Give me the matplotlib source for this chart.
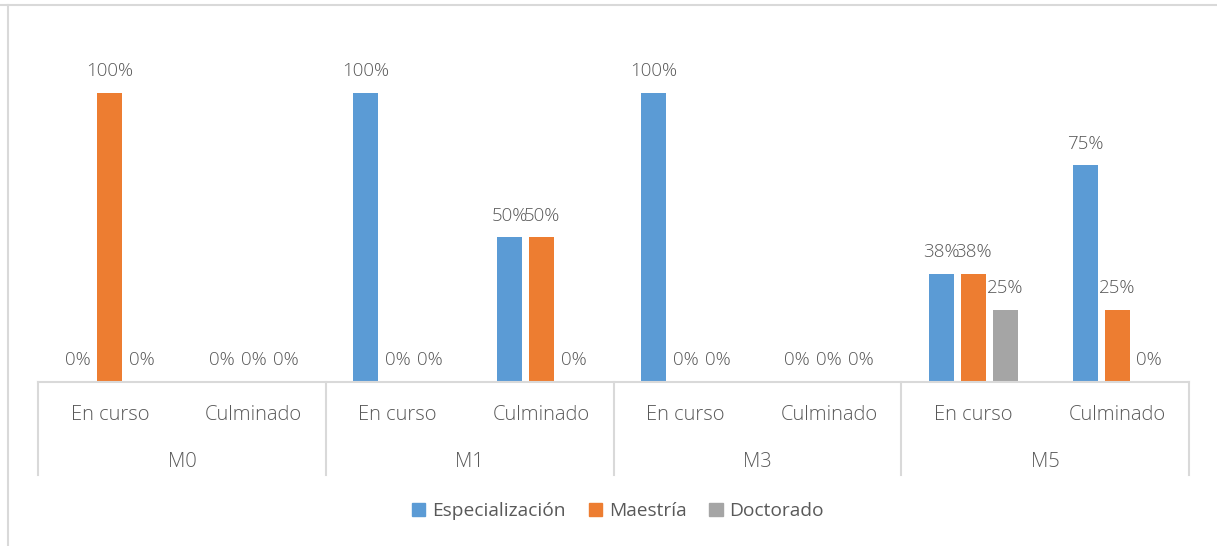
import matplotlib
matplotlib.use("Agg")
import matplotlib.pyplot as plt
import matplotlib.transforms as mtransforms
from matplotlib.lines import Line2D
from matplotlib.patches import Patch

# ---- data ----
groups = ["M0", "M1", "M3", "M5"]
subcats = ["En curso", "Culminado"]
series_names = ["Especialización", "Maestría", "Doctorado"]
especializacion = [0.0, 0.0, 1.0, 0.5, 1.0, 0.0, 0.375, 0.75]
maestria = [1.0, 0.0, 0.0, 0.5, 0.0, 0.0, 0.375, 0.25]
doctorado = [0.0, 0.0, 0.0, 0.0, 0.0, 0.0, 0.25, 0.0]
colors = ["#5B9BD5", "#ED7D31", "#A5A5A5"]

W, H = 1217, 546
fig = plt.figure(figsize=(W / 100, H / 100), dpi=100)
plt.rcParams['font.family'] = ['Open Sans', 'DejaVu Sans']
txt_color = "#595959"
grid_color = "#D9D9D9"
fs_data = 13.5
fs_cat = 14.5
fs_leg = 13.8

def fx(px):
    return px / W

def fy(py):
    return (H - py) / H

left, right, base, top = 38, 1189, 382, 35
ax = fig.add_axes([fx(left), fy(base), fx(right) - fx(left), fy(top) - fy(base)])
ax.set_xlim(0, 8)
ax.set_ylim(0, 1.2)
ax.axis("off")

n = len(especializacion)
xs = [i + 0.5 for i in range(n)]
all_series = [especializacion, maestria, doctorado]
offsets = [-0.222, 0.0, 0.222]
bw = 0.174
for s, vals in enumerate(all_series):
    bx = [x + offsets[s] for x in xs]
    ax.bar(bx, vals, width=bw, color=colors[s], zorder=2)
    for x, v in zip(bx, vals):
        ax.annotate(f"{int(v * 100 + 0.5)}%", (x, v), xytext=(0, 15.5), textcoords="offset points",
                    ha="center", va="center", fontsize=fs_data, color=txt_color,
                    fontweight="light", annotation_clip=False)

# axis line and category labels
trans = mtransforms.blended_transform_factory(ax.transData, fig.transFigure)
ax.add_line(Line2D([0, 8], [fy(base), fy(base)], transform=trans, color=grid_color, lw=1.5, clip_on=False))
for g in range(len(groups) + 1):
    ax.add_line(Line2D([2 * g, 2 * g], [fy(base), fy(475)], transform=trans, color=grid_color,
                       lw=1.5, clip_on=False))
for i, x in enumerate(xs):
    ax.text(x, fy(415), subcats[i % 2], transform=trans, ha="center", va="center",
            fontsize=fs_cat, color=txt_color, fontweight="light")
for g, name in enumerate(groups):
    ax.text(2 * g + 1, fy(462), name, transform=trans, ha="center", va="center",
            fontsize=fs_cat, color=txt_color, fontweight="light")

# legend
handles = [Patch(facecolor=c, edgecolor=c) for c in colors]
leg = fig.legend(handles, series_names, loc="center", bbox_to_anchor=(fx(618), fy(511)), ncol=3,
                 frameon=False, fontsize=fs_leg, handlelength=0.7, handleheight=0.7,
                 handletextpad=0.35, columnspacing=1.2)
for t in leg.get_texts():
    t.set_color(txt_color)

# chart border (cropped)
fig.add_artist(Line2D([0, 1], [fy(5), fy(5)], transform=fig.transFigure, color=grid_color, lw=1.5))
fig.add_artist(Line2D([fx(8), fx(8)], [fy(5), 0], transform=fig.transFigure, color=grid_color, lw=1.5))

fig.savefig("out.png", dpi=100)
